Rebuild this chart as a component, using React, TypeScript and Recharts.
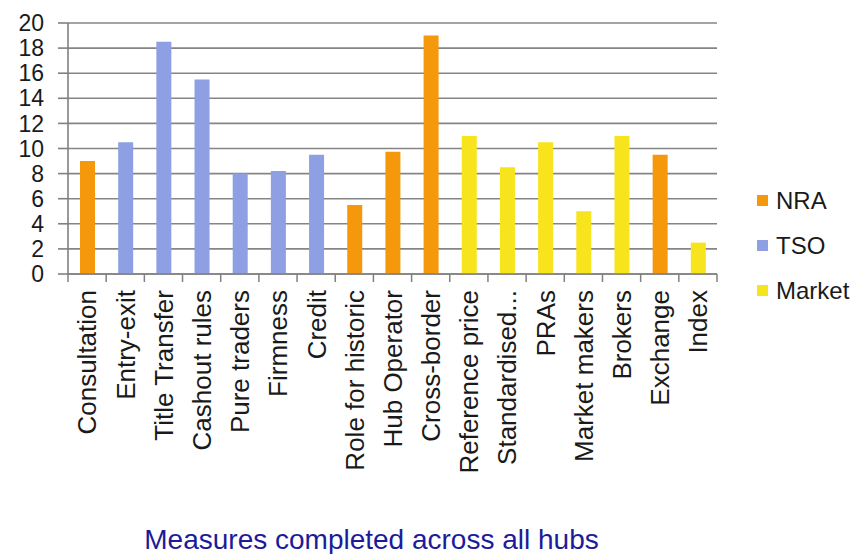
import React from "react";
import { BarChart, Bar, XAxis, YAxis, CartesianGrid, Legend, Label } from "recharts";

const categories = [
  "Consultation", "Entry-exit", "Title Transfer", "Cashout rules", "Pure traders",
  "Firmness", "Credit", "Role for historic", "Hub Operator", "Cross-border",
  "Reference price", "Standardised...", "PRAs", "Market makers", "Brokers",
  "Exchange", "Index",
];
const values = [9, 10.5, 18.5, 15.5, 8, 8.2, 9.5, 5.5, 9.75, 19, 11, 8.5, 10.5, 5, 11, 9.5, 2.5];
const groups = ["NRA", "TSO", "TSO", "TSO", "TSO", "TSO", "TSO", "NRA", "NRA", "NRA",
  "Market", "Market", "Market", "Market", "Market", "NRA", "Market"];
const seriesNames = ["NRA", "TSO", "Market"];
const seriesKeys = ["nra", "tso", "market"];
const seriesColors = ["#F5980C", "#8E9FE3", "#F7E41C"];
const yTicks = [0, 2, 4, 6, 8, 10, 12, 14, 16, 18, 20];
const title = "Measures completed across all hubs";

const data = categories.map((c, i) => {
  const row: any = { name: c };
  seriesNames.forEach((s, k) => {
    row[seriesKeys[k]] = groups[i] === s ? values[i] : null;
  });
  return row;
});

const W = 860;
const H = 554;
const M = { top: 23, right: 143, left: 0, bottom: 0 };
const Y_W = 68;
const PLOT_W = W - M.left - M.right - Y_W;
const BAND = PLOT_W / categories.length;
const TICK_OFF = 16;

const XTick = (props: any) => {
  const { x, y, payload, index } = props;
  const ay = y - TICK_OFF;
  return (
    <g>
      <line x1={x - BAND / 2} x2={x - BAND / 2} y1={ay} y2={ay + 8} stroke="#808080" strokeWidth={1.5} />
      {index === categories.length - 1 && (
        <line x1={x + BAND / 2} x2={x + BAND / 2} y1={ay} y2={ay + 8} stroke="#808080" strokeWidth={1.5} />
      )}
      <text
        x={x}
        y={y}
        dy="0.36em"
        textAnchor="end"
        transform={`rotate(-90, ${x}, ${y})`}
        fontSize={26}
        fill="#1a1a1a"
      >
        {payload.value}
      </text>
    </g>
  );
};

const LegendContent = () => (
  <div>
    {seriesNames.map((n, i) => (
      <div key={n} style={{ display: "flex", alignItems: "center", height: 45 }}>
        <span style={{ display: "inline-block", width: 11, height: 11, background: seriesColors[i], marginRight: 8 }} />
        <span style={{ fontSize: 24, color: "#1a1a1a", lineHeight: "24px" }}>{n}</span>
      </div>
    ))}
  </div>
);

export default function App() {
  return (
    <div style={{ position: "absolute", left: 0, top: 0, fontFamily: "'Liberation Sans', Arial, sans-serif", background: "#fff" }}>
      <BarChart width={W} height={H} data={data} margin={M}>
        <CartesianGrid vertical={false} stroke="#858585" strokeWidth={1.6} />
        <XAxis
          dataKey="name"
          interval={0}
          height={H - 274 - M.bottom}
          tickLine={false}
          tickSize={8}
          tickMargin={8}
          axisLine={{ stroke: "#808080", strokeWidth: 1.6 }}
          tick={<XTick />}
        >
          <Label value={title} position="insideBottom" offset={5} dx={-21} fontSize={28} fill="#1C1C9A" />
        </XAxis>
        <YAxis
          width={Y_W}
          domain={[0, 20]}
          ticks={yTicks}
          interval={0}
          tickSize={10}
          tickMargin={14}
          axisLine={{ stroke: "#808080", strokeWidth: 1.6 }}
          tickLine={{ stroke: "#808080", strokeWidth: 1.6 }}
          tick={{ fontSize: 23, fill: "#1a1a1a" }}
        />
        <Legend
          layout="vertical"
          align="center"
          verticalAlign="middle"
          wrapperStyle={{ left: 757, top: 178, width: 110 }}
          content={<LegendContent />}
        />
        {seriesKeys.map((k, i) => (
          <Bar
            key={k}
            dataKey={k}
            name={seriesNames[i]}
            stackId="s"
            fill={seriesColors[i]}
            barSize={15}
            isAnimationActive={false}
          />
        ))}
      </BarChart>
    </div>
  );
}
